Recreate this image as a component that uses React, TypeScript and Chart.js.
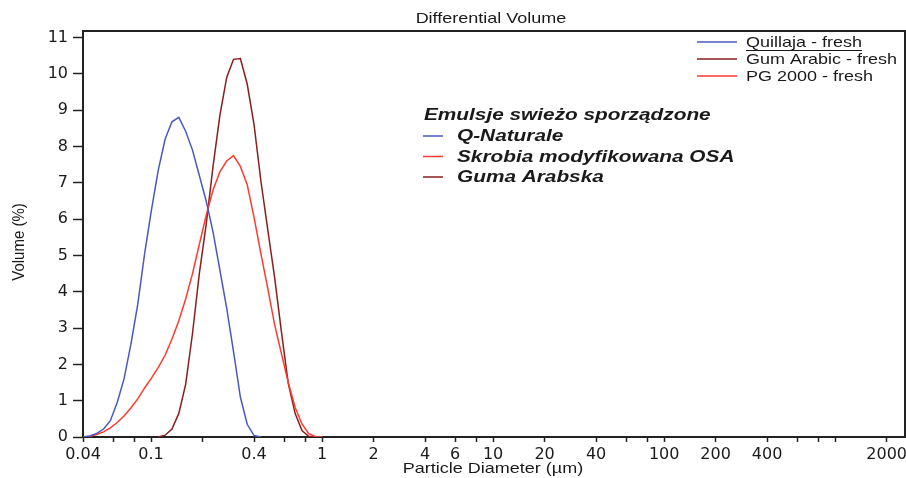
import React, { useEffect, useRef } from 'react';
import { Chart, registerables } from 'chart.js';

Chart.register(...registerables);

// Particle diameters (µm), log-spaced
const DIAMETERS = [
  0.04, 0.0439, 0.0481, 0.0528, 0.0578, 0.0634, 0.0695, 0.0762, 0.0836, 0.0917,
  0.1005, 0.1102, 0.1208, 0.1325, 0.1453, 0.1593, 0.1747, 0.1915, 0.21, 0.2303,
  0.2525, 0.2768, 0.3035, 0.3328, 0.3649, 0.4001, 0.4387, 0.481, 0.5274, 0.5783,
  0.6341, 0.6953, 0.7623, 0.8359, 0.9165, 1.0049, 1.1019,
];

// Volume (%) per series
const QUILLAJA = [
  0, 0.03, 0.1, 0.22, 0.45, 0.95, 1.6, 2.55, 3.65, 5.05,
  6.25, 7.35, 8.2, 8.68, 8.8, 8.42, 7.9, 7.2, 6.5, 5.65,
  4.6, 3.55, 2.35, 1.1, 0.35, 0.04, 0, null, null, null,
  null, null, null, null, null, null, null,
];
const GUM_ARABIC = [
  null, null, null, null, null, null, null, null, null, null,
  null, 0, 0.05, 0.22, 0.65, 1.45, 2.85, 4.5, 5.85, 7.45,
  8.85, 9.9, 10.4, 10.42, 9.72, 8.6, 7.05, 5.72, 4.4, 2.9,
  1.48, 0.65, 0.18, 0.02, 0, null, null,
];
const PG2000 = [
  0, 0.02, 0.07, 0.14, 0.25, 0.4, 0.58, 0.8, 1.05, 1.35,
  1.62, 1.92, 2.25, 2.7, 3.2, 3.8, 4.5, 5.3, 6.1, 6.8,
  7.3, 7.6, 7.75, 7.45, 6.95, 6.05, 5.05, 4.1, 3.1, 2.3,
  1.5, 0.82, 0.36, 0.09, 0.01, 0, null,
];

const SERIES_NAMES = ['Quillaja - fresh', 'Gum Arabic - fresh', 'PG 2000 - fresh'];
const NOTE_TITLE = 'Emulsje swieżo sporządzone';
const NOTE_NAMES = ['Q-Naturale', 'Skrobia modyfikowana OSA', 'Guma Arabska'];

const X_TICKS = [0.04, 0.06, 0.08, 0.1, 0.2, 0.4, 0.6, 0.8, 1, 2, 4, 6, 8, 10, 20, 40, 60, 80, 100, 200, 400, 600, 800, 1000, 2000];
const X_LABELS = [0.04, 0.1, 0.4, 1, 2, 4, 6, 10, 20, 40, 100, 200, 400, 2000];
const Y_TICKS = [0, 1, 2, 3, 4, 5, 6, 7, 8, 9, 10, 11];

const CHART_TITLE = 'Differential Volume';
const X_TITLE = 'Particle Diameter (µm)';
const Y_TITLE = 'Volume (%)';

const BLUE = '#4a58c2';
const MAROON = '#8a1e1e';
const RED = '#ff3a30';
const AXIS = '#222222';
const TEXT = '#1a1a1a';

function drawText(ctx: CanvasRenderingContext2D, text: string, x: number, y: number, font: string, sx: number, align: CanvasTextAlign) {
  ctx.save();
  ctx.font = font;
  ctx.textAlign = align;
  ctx.textBaseline = 'alphabetic';
  ctx.fillStyle = TEXT;
  ctx.translate(x, y);
  ctx.scale(sx, 1);
  ctx.fillText(text, 0, 0);
  const w = ctx.measureText(text).width * sx;
  ctx.restore();
  return w;
}

const overlay = {
  id: 'overlay',
  afterDraw(chart: any) {
    const ctx: CanvasRenderingContext2D = chart.ctx;
    const a = chart.chartArea;
    ctx.save();
    // frame top / right
    ctx.strokeStyle = AXIS;
    ctx.lineWidth = 2;
    ctx.beginPath();
    ctx.moveTo(a.left, a.top);
    ctx.lineTo(a.right, a.top);
    ctx.lineTo(a.right, a.bottom);
    ctx.stroke();

    const f = '15px "Liberation Sans", Arial, sans-serif';
    drawText(ctx, CHART_TITLE, 491, 23, f, 1.2, 'center');
    drawText(ctx, X_TITLE, 493, 473, f, 1.2, 'center');

    ctx.save();
    ctx.translate(19, 242);
    ctx.rotate(-Math.PI / 2);
    ctx.scale(1, 1.15);
    ctx.font = '15px "Liberation Sans", Arial, sans-serif';
    ctx.fillStyle = TEXT;
    ctx.textAlign = 'center';
    ctx.textBaseline = 'middle';
    ctx.fillText(Y_TITLE, 0, 0);
    ctx.restore();

    // legend (top right)
    const cols = [BLUE, MAROON, RED];
    const bases = [47, 64, 81];
    for (let i = 0; i < 3; i++) {
      ctx.strokeStyle = cols[i];
      ctx.lineWidth = 1.5;
      ctx.beginPath();
      ctx.moveTo(697, bases[i] - 5);
      ctx.lineTo(737, bases[i] - 5);
      ctx.stroke();
      const w = drawText(ctx, SERIES_NAMES[i], 746, bases[i], f, 1.2, 'left');
      if (i === 0) {
        ctx.strokeStyle = TEXT;
        ctx.lineWidth = 1;
        ctx.beginPath();
        ctx.moveTo(746, 50.5);
        ctx.lineTo(746 + w, 50.5);
        ctx.stroke();
      }
    }

    // annotation legend
    const fb = 'italic bold 16px "Liberation Sans", Arial, sans-serif';
    drawText(ctx, NOTE_TITLE, 424, 120, fb, 1.3, 'left');
    const ncols = [BLUE, RED, MAROON];
    const nb = [141, 161.5, 182];
    for (let i = 0; i < 3; i++) {
      ctx.strokeStyle = ncols[i];
      ctx.lineWidth = 1.5;
      ctx.beginPath();
      ctx.moveTo(423, nb[i] - 5);
      ctx.lineTo(443, nb[i] - 5);
      ctx.stroke();
      drawText(ctx, NOTE_NAMES[i], 457, nb[i], fb, 1.3, 'left');
    }
    ctx.restore();
  },
};

export default function App() {
  const ref = useRef<HTMLCanvasElement>(null);
  useEffect(() => {
    document.body.style.margin = '0';
    document.body.style.overflow = 'hidden';
    const canvas = ref.current!;
    const mk = (vals: (number | null)[]) => DIAMETERS.map((d, i) => ({ x: d, y: vals[i] }));
    const ds = (label: string, vals: (number | null)[], color: string) => ({
      label,
      data: mk(vals),
      borderColor: color,
      backgroundColor: color,
      borderWidth: 1.5,
      pointRadius: 0,
      tension: 0,
      spanGaps: false,
      fill: false,
    });
    const tickFont = { family: 'DejaVu Sans', size: 16 };
    const chart = new Chart(canvas, {
      type: 'line',
      data: {
        datasets: [
          ds(SERIES_NAMES[0], QUILLAJA, BLUE),
          ds(SERIES_NAMES[2], PG2000, RED),
          ds(SERIES_NAMES[1], GUM_ARABIC, MAROON),
        ] as any,
      },
      options: {
        animation: false,
        responsive: false,
        devicePixelRatio: 1,
        layout: { padding: { top: 31, right: 1, left: 0, bottom: 0 } },
        plugins: { legend: { display: false }, tooltip: { enabled: false }, title: { display: false } },
        scales: {
          x: {
            type: 'logarithmic',
            min: 0.04,
            max: 2560,
            afterBuildTicks: (s: any) => { s.ticks = X_TICKS.map((v) => ({ value: v })); },
            afterFit: (s: any) => { s.height = 41; s.paddingLeft = 0; s.paddingRight = 0; },
            ticks: {
              autoSkip: false,
              maxRotation: 0,
              minRotation: 0,
              padding: 3,
              color: TEXT,
              font: tickFont,
              callback: (v: any) => (X_LABELS.includes(Number(v)) ? String(v) : ''),
            },
            grid: { drawOnChartArea: false, drawTicks: true, tickLength: 5, color: AXIS, tickWidth: 1.5 },
            border: { display: true, color: AXIS, width: 2 },
          },
          y: {
            type: 'linear',
            min: 0,
            max: 11.18,
            afterBuildTicks: (s: any) => { s.ticks = Y_TICKS.map((v) => ({ value: v })); },
            afterFit: (s: any) => { s.width = 83; s.paddingTop = 0; s.paddingBottom = 0; },
            ticks: { padding: 5, color: TEXT, font: tickFont, callback: (v: any) => String(v) },
            grid: { drawOnChartArea: false, drawTicks: true, tickLength: 10, color: AXIS, tickWidth: 1.5 },
            border: { display: true, color: AXIS, width: 2 },
          },
        },
      } as any,
      plugins: [overlay],
    });
    return () => chart.destroy();
  }, []);
  return (
    <div style={{ width: 906, height: 478, position: 'relative' }}>
      <canvas ref={ref} width={906} height={478} style={{ display: 'block' }} />
    </div>
  );
}
